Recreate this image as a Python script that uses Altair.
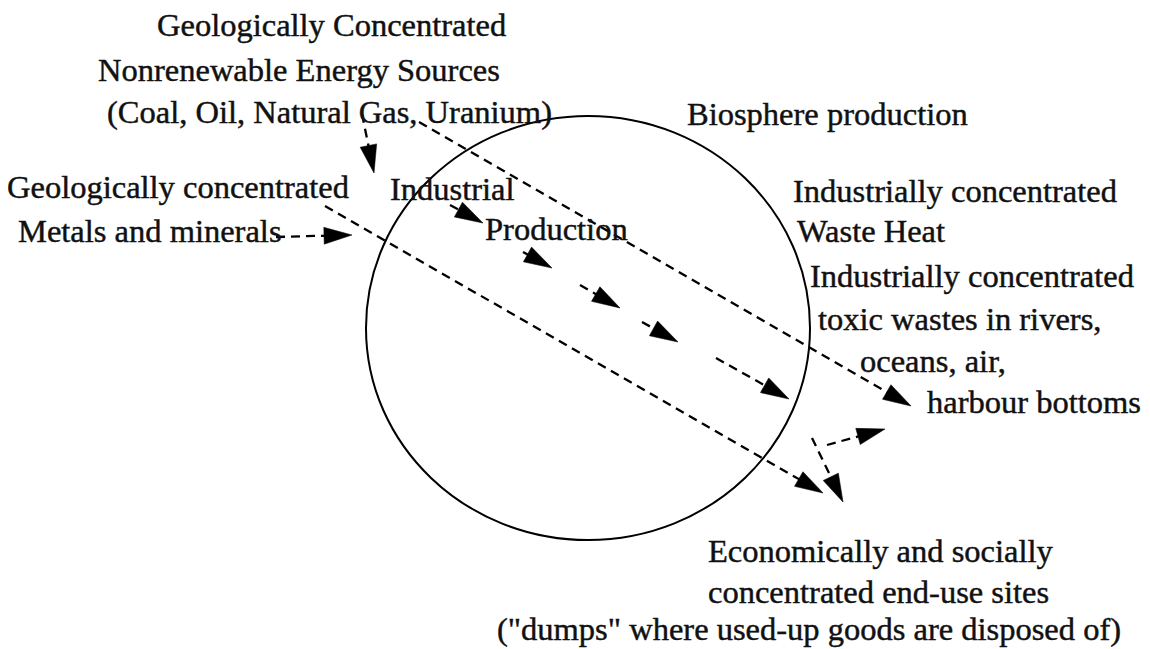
import math
import altair as alt
import pandas as pd

# ---------------- data (image pixel coordinates) ----------------
LABELS = [
    "Geologically Concentrated",
    "Nonrenewable Energy Sources",
    "(Coal, Oil, Natural Gas, Uranium)",
    "Biosphere production",
    "Geologically concentrated",
    "Metals and minerals",
    "Industrial",
    "Production",
    "Industrially concentrated",
    "Waste Heat",
    "Industrially concentrated",
    "toxic wastes in rivers,",
    "oceans, air,",
    "harbour bottoms",
    "Economically and socially",
    "concentrated end-use sites",
    "(\"dumps\" where used-up goods are disposed of)",
]
LABEL_X = [157, 98, 107, 687, 7, 18, 390, 485, 793, 797, 810, 818, 860, 927, 708, 708, 497]
LABEL_Y = [36, 81, 123, 125, 198, 242, 200, 240, 202, 242, 287, 330, 372, 413, 562, 603, 640]

ARROW_X0 = [362, 419, 325, 276, 450, 523, 580, 642, 716, 812, 827]
ARROW_Y0 = [114, 122, 206, 237, 205, 252, 285, 322, 358, 438, 445]
ARROW_X1 = [374, 911, 823, 352, 483, 552, 620, 678, 789, 843, 885]
ARROW_Y1 = [173, 406, 493, 235, 223, 268, 308, 342, 399, 502, 429]

CIRCLE_CX = [588]
CIRCLE_CY = [328]
CIRCLE_RX = 222
CIRCLE_RY = 212

# ---------------- geometry helpers ----------------
W, H = 1134, 641
X_DOMAIN = [8, 8 + W]
Y_DOMAIN = [8, 8 + H]

HEAD_LEN = 28
HEAD_HALF = 0.3

labels = pd.DataFrame({"text": LABELS, "x": LABEL_X, "y": LABEL_Y})

rows = []
for x0, y0, x1, y1 in zip(ARROW_X0, ARROW_Y0, ARROW_X1, ARROW_Y1):
    dx, dy = x1 - x0, y1 - y0
    d = math.hypot(dx, dy)
    ux, uy = dx / d, dy / d
    rows.append({
        "x0": x0, "y0": y0,
        "xe": x1 - ux * (HEAD_LEN - 6), "ye": y1 - uy * (HEAD_LEN - 6),
        "xt": x1, "yt": y1,
        "angle": (math.degrees(math.atan2(dy, dx)) + 360) % 360,
    })
arrows = pd.DataFrame(rows)

circle = pd.DataFrame({"cx": CIRCLE_CX, "cy": CIRCLE_CY})
r = CIRCLE_RY / CIRCLE_RX
k = 0.5523
ellipse_path = (
    f"M1,0 C1,{k*r:.4f} {k:.4f},{r:.4f} 0,{r:.4f} "
    f"C{-k:.4f},{r:.4f} -1,{k*r:.4f} -1,0 "
    f"C-1,{-k*r:.4f} {-k:.4f},{-r:.4f} 0,{-r:.4f} "
    f"C{k:.4f},{-r:.4f} 1,{-k*r:.4f} 1,0 Z"
)

xs = alt.Scale(domain=X_DOMAIN, nice=False, zero=False)
ys = alt.Scale(domain=Y_DOMAIN, nice=False, zero=False, reverse=True)

ring = alt.Chart(circle).mark_point(
    shape=ellipse_path, size=(2 * CIRCLE_RX) ** 2, filled=False,
    stroke="black", strokeWidth=2, opacity=1
).encode(
    x=alt.X("cx:Q", scale=xs, axis=None),
    y=alt.Y("cy:Q", scale=ys, axis=None),
)

lines = alt.Chart(arrows).mark_rule(
    color="black", strokeWidth=2.3, strokeDash=[9, 6]
).encode(
    x=alt.X("x0:Q", scale=xs, axis=None),
    y=alt.Y("y0:Q", scale=ys, axis=None),
    x2="xe:Q",
    y2="ye:Q",
)

heads = alt.Chart(arrows).mark_point(
    shape=f"M0,0 L-1,{-HEAD_HALF} L-1,{HEAD_HALF} Z",
    size=(2 * HEAD_LEN) ** 2, filled=True, fill="black", stroke="black",
    strokeWidth=0.5, opacity=1
).encode(
    x=alt.X("xt:Q", scale=xs, axis=None),
    y=alt.Y("yt:Q", scale=ys, axis=None),
    angle=alt.Angle("angle:Q", scale=None),
)

text = alt.Chart(labels).mark_text(
    align="left", baseline="alphabetic", font="Liberation Serif",
    fontSize=32.5, color="#111111", stroke="#111111", strokeWidth=0.45
).encode(
    x=alt.X("x:Q", scale=xs, axis=None),
    y=alt.Y("y:Q", scale=ys, axis=None),
    text="text:N",
)

chart = alt.layer(ring, lines, heads, text).properties(
    width=W, height=H,
    autosize=alt.AutoSizeParams(type="none"),
    padding=0,
    background="white",
).configure_view(stroke=None)

chart.save("out.html", embed_options={"renderer": "svg", "actions": False})
